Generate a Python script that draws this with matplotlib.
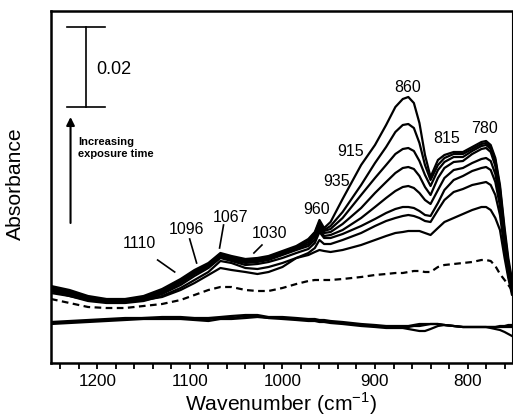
import numpy as np
import matplotlib
matplotlib.use("Agg")
import matplotlib.pyplot as plt
from matplotlib.ticker import MultipleLocator, NullLocator

plt.rcParams['font.family'] = ['Liberation Sans', 'DejaVu Sans']
plt.rcParams['mathtext.fontset'] = 'custom'
plt.rcParams['mathtext.rm'] = 'Liberation Sans'

# Wavenumber grid (cm-1)
wavenumber = [1250, 1230, 1210, 1190, 1170, 1150, 1130, 1110, 1095, 1080,
              1067, 1055, 1040, 1027, 1015, 1000, 985, 972, 965, 960,
              955, 948, 935, 915, 900, 888, 878, 870, 864, 858,
              852, 846, 840, 832, 825, 815, 805, 795, 785, 780,
              775, 770, 765, 760, 756, 752]

# Absorbance values in mAbs, increasing exposure time
spec_c1 = [19.25,18.25,16.75,16.0,16.0,16.75,18.5,21.0,23.25,25.0,27.5,26.75,26.0,26.25,26.75,28.0,29.25,31.0,32.75,35.75,33.75,35.25,41.0,49.5,
           54.5,59.5,64.0,66.0,66.5,65.0,60.0,52.0,46.5,
           50.75,52.0,52.75,52.75,54.0,55.25,55.5,54.5,51.25,44.5,33.75,26.25,20.75]
spec_c2 = [19.0,18.0,16.5,15.75,15.75,16.5,18.25,20.75,23.0,24.75,27.25,26.5,25.75,26.0,26.5,27.75,29.0,30.75,32.5,35.25,33.25,34.25,37.75,44.5,
           50.0,54.0,57.75,59.5,59.75,58.75,55.0,49.5,45.75,
           49.5,51.25,52.25,52.25,53.5,54.75,55.0,54.0,50.75,43.75,32.75,25.25,20.25]
spec_c3 = [18.75,17.75,16.25,15.75,15.75,16.25,18.0,20.5,22.75,24.5,27.0,26.25,25.5,25.75,26.25,27.5,28.75,30.25,32.0,34.75,33.0,33.5,36.25,42.0,
           46.25,49.5,52.25,53.5,53.75,53.0,50.5,47.0,44.25,
           48.25,50.25,51.5,51.5,53.0,54.25,54.5,53.5,50.0,42.75,31.75,24.5,19.75]
spec_c4 = [18.75,17.5,16.25,15.5,15.5,16.25,17.75,20.25,22.5,24.25,26.75,26.0,25.25,25.5,26.0,27.25,28.5,29.75,31.5,34.0,32.5,32.75,34.75,38.75,
           42.5,45.25,47.5,48.75,49.0,48.5,46.75,44.0,42.0,
           46.25,48.75,50.25,50.5,52.25,53.5,53.75,52.75,49.25,42.0,30.75,23.75,19.25]
spec_c5 = [18.5,17.25,16.0,15.5,15.5,16.0,17.5,20.0,22.25,24.0,26.5,25.75,25.0,25.25,25.75,27.0,28.25,29.25,30.75,33.5,31.75,32.0,33.25,36.25,
           39.0,41.25,43.0,44.0,44.25,43.75,42.5,40.75,39.75,
           43.25,46.25,48.25,48.75,50.0,51.0,51.25,50.5,47.25,40.75,30.0,23.25,18.75]
spec_c6 = [18.25,17.0,15.75,15.25,15.25,15.75,17.25,19.5,21.75,23.75,26.25,25.5,24.5,24.75,25.25,26.25,27.5,28.5,30.0,32.75,31.25,31.25,32.25,34.25,
           36.0,37.5,38.5,39.0,39.0,38.75,38.0,37.0,36.75,
           40.0,43.25,45.75,46.75,48.0,48.75,49.0,48.25,45.25,39.25,29.25,22.75,18.25]
spec_c7 = [18.0,16.75,15.5,15.0,15.0,15.5,16.75,18.75,20.75,22.75,25.5,25.0,23.75,23.5,24.0,25.0,26.25,27.5,28.75,30.75,29.75,29.75,30.75,32.5,
           34.25,35.5,36.25,36.75,37.0,36.75,36.25,35.5,35.25,
           38.25,40.75,42.75,43.5,44.5,45.0,45.25,44.5,42.0,37.0,28.25,22.0,17.75]
spec_c8 = [17.5,16.75,15.75,15.25,15.25,15.75,16.5,18.25,20.0,22.0,23.75,23.25,22.75,22.25,22.75,24.0,26.25,27.0,27.75,28.25,28.0,27.75,28.25,29.5,
           30.75,31.75,32.5,32.75,33.0,33.0,33.0,32.5,32.0,
           33.75,35.25,36.25,37.25,38.25,39.0,39.0,38.25,36.25,33.25,26.25,21.25,17.0]
spec_dashed = [16.0,15.0,14.0,13.75,13.75,14.25,14.75,15.75,17.0,18.25,19.0,19.0,18.25,18.0,18.0,18.75,19.75,20.5,20.75,20.75,20.75,20.75,21.0,21.5,
               22.0,22.25,22.5,22.5,22.75,23.0,23.0,22.75,22.75,
               24.0,24.5,24.75,25.0,25.25,25.75,25.75,25.5,24.25,22.25,20.75,19.5,18.25]
base_1 = [10.0,10.25,10.5,10.75,11.0,11.25,11.25,11.25,11.0,11.0,11.25,11.25,11.75,11.75,11.25,11.25,11.0,10.75,10.75,10.5,10.5,10.25,10.0,9.5,
          9.25,9.0,9.0,9.0,9.0,9.25,9.25,9.5,9.75,
          9.75,9.5,9.25,9.0,9.0,9.0,9.0,8.75,8.5,8.25,7.75,7.25,6.75]
base_2 = [9.75,10.0,10.25,10.5,10.75,11.0,11.0,11.0,10.75,10.5,11.0,11.0,11.25,11.5,11.25,11.0,10.75,10.5,10.5,10.25,10.25,10.0,9.75,9.25,
          9.0,8.75,8.75,8.75,8.5,8.25,8.0,8.0,8.5,
          9.25,9.5,9.25,9.0,9.0,9.0,9.0,9.0,9.0,9.0,9.0,9.0,9.0]
base_3 = [10.25,10.5,10.75,11.0,11.25,11.25,11.5,11.5,11.25,11.25,11.5,11.75,12.0,12.0,11.5,11.5,11.25,11.0,11.0,10.75,10.75,10.5,10.25,9.75,
          9.5,9.25,9.25,9.25,9.25,9.5,9.75,9.75,9.75,
          9.75,9.5,9.25,9.0,9.0,9.0,9.0,9.0,9.0,9.25,9.25,9.5,9.5]

peak_labels = ["1110", "1096", "1067", "1030", "960", "935", "915", "860", "815", "780"]

fig = plt.figure(figsize=(5.13, 4.19), dpi=100)
ax = fig.add_axes([51/513, 56/419, 461/513, 352/419])

w = np.array(wavenumber)
to_abs = 1e-3
lw = 1.6
for s in [spec_c8, spec_c7, spec_c6, spec_c5, spec_c4, spec_c3, spec_c2, spec_c1]:
    ax.plot(w, np.array(s) * to_abs, color='black', lw=lw,
            solid_joinstyle='round', solid_capstyle='round')
ax.plot(w, np.array(spec_dashed) * to_abs, color='black', lw=lw, ls=(0, (3, 2)))
for s in [base_1, base_2, base_3]:
    ax.plot(w, np.array(s) * to_abs, color='black', lw=lw, solid_joinstyle='round')

ax.set_xlim(1250, 752)
ax.set_ylim(0, 0.088)

ax.xaxis.set_major_locator(MultipleLocator(100))
ax.xaxis.set_minor_locator(MultipleLocator(20))
ax.yaxis.set_major_locator(NullLocator())
ax.tick_params(axis='x', which='both', direction='out', width=1.3, labelsize=12.3, pad=4)
ax.tick_params(axis='x', which='major', length=4)
ax.tick_params(axis='x', which='minor', length=4)

for side in ['left', 'top', 'bottom']:
    ax.spines[side].set_linewidth(1.8)
ax.spines['right'].set_linewidth(0.8)

ax.set_xlabel(r'Wavenumber (cm$^{\mathregular{-1}}$)', fontsize=15.2, labelpad=1)
ax.set_ylabel('Absorbance', fontsize=15.2)
ax.yaxis.set_label_coords(-0.056, 0.51)

# scale bar
ax.plot([1212.6, 1212.6], [0.064, 0.084], color='black', lw=1.2)
ax.plot([1233, 1192], [0.084, 0.084], color='black', lw=1.2)
ax.plot([1233, 1192], [0.064, 0.064], color='black', lw=1.2)
ax.text(1201, 0.0735, '0.02', fontsize=13, ha='left', va='center')

# arrow
ax.annotate('', xy=(1228.9, 0.0615), xytext=(1228.9, 0.035),
            arrowprops=dict(arrowstyle='-|>', color='black', lw=1.5,
                            mutation_scale=12, shrinkA=0, shrinkB=0))
ax.text(1220.5, 0.0538, 'Increasing\nexposure time', fontsize=8,
        fontweight='bold', ha='left', va='center', linespacing=1.2)

fs = 11.5
label_pos = {
    "1110": (1154.3, 0.0300), "1096": (1103.5, 0.03325), "1067": (1055.9, 0.0365),
    "1030": (1013.7, 0.0325), "960": (963, 0.03825), "935": (941.3, 0.04525),
    "915": (926.2, 0.05275), "860": (864.5, 0.06875), "815": (822.4, 0.056),
    "780": (781.3, 0.0585),
}
for lab in peak_labels:
    x, y = label_pos[lab]
    ax.text(x, y, lab, fontsize=fs, ha='center', va='center')

leaders = {
    "1110": ((1134.8, 0.02575), (1116.4, 0.02275)),
    "1096": ((1100.2, 0.0310), (1092.7, 0.0250)),
    "1067": ((1063.6, 0.0345), (1067.9, 0.02875)),
    "1030": ((1022.1, 0.0295), (1030.8, 0.0275)),
}
for lab, (p0, p1) in leaders.items():
    ax.plot([p0[0], p1[0]], [p0[1], p1[1]], color='black', lw=1.2)

fig.savefig('out.png', dpi=100)
